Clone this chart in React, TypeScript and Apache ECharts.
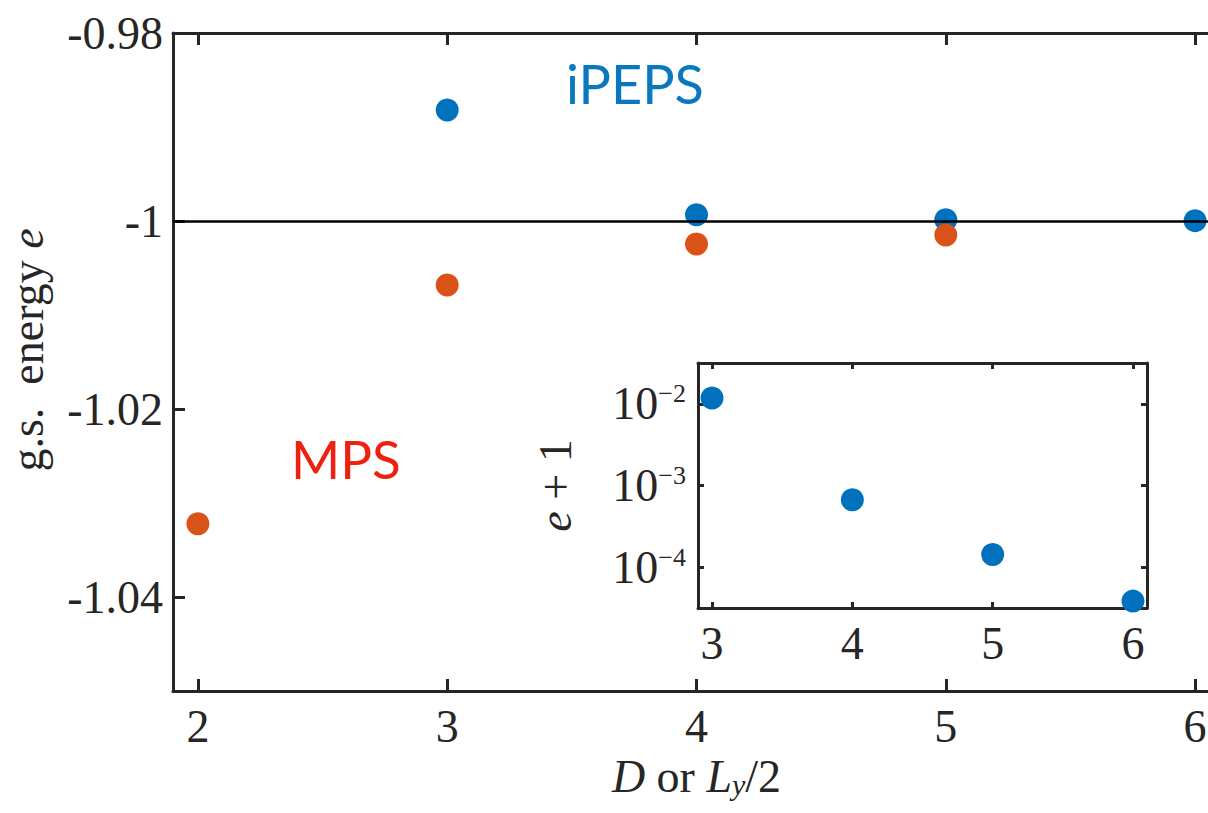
import React, { useEffect, useRef } from 'react';
import * as echarts from 'echarts';

// ---- data ----
const xTicks = [2, 3, 4, 5, 6];
const yTicks = [-1.04, -1.02, -1, -0.98];
const insetXTicks = [3, 4, 5, 6];
const mpsX = [2, 3, 4, 5];
const mpsE = [-1.0322, -1.0068, -1.00245, -1.0015];
const ipepsX = [3, 4, 5, 6];
const ipepsE = [-0.9882, -0.99933, -0.999857, -0.9999616];
const insetX = [3, 4, 5, 6];
const insetErr = [1.18e-2, 6.7e-4, 1.43e-4, 3.84e-5];
const refE = -1;

const BLUE = '#0072BD';
const ORANGE = '#D95319';
const AX = '#262626';
const SERIF = 'Liberation Serif, serif';
const SANS = 'Lato';

export default function App() {
  const ref = useRef<HTMLDivElement>(null);
  useEffect(() => {
    const chart = echarts.init(ref.current!, null, { renderer: 'svg' });
    const axLine = { show: true, lineStyle: { color: AX, width: 3 } };
    const mainTick = { show: true, inside: true, length: 12, lineStyle: { color: AX, width: 3 } };
    const insetTick = { show: true, inside: true, length: 6, lineStyle: { color: AX, width: 3 } };
    const tRich = { t: { fontFamily: SERIF, fontSize: 46, color: AX } };
    const lbl = { color: AX, fontFamily: SERIF, fontSize: 46, rich: tRich };
    const numFmt = (v: number) => `{t|${String(Number(v.toFixed(2)))}}`;
    const supFmt = (v: number) => {
      const e = Math.log10(v);
      if (Math.abs(e - Math.round(e)) > 1e-6) return '';
      return `{b|10}{s|\u2212${Math.abs(Math.round(e))}}`;
    };
    const supRich = {
      b: { fontFamily: SERIF, fontSize: 46, color: AX, lineHeight: 46 },
      s: { fontFamily: SERIF, fontSize: 26, color: AX, verticalAlign: 'top', lineHeight: 24 },
    };
    chart.setOption({
      animation: false,
      backgroundColor: '#fff',
      textStyle: { fontFamily: SERIF, color: AX },
      grid: [
        { left: 173, top: 33, width: 1047, height: 658, show: false, containLabel: false, outerBoundsMode: 'none' },
        { left: 698, top: 363, width: 449, height: 245, show: true, backgroundColor: '#fff', borderWidth: 0, z: 5, containLabel: false, outerBoundsMode: 'none' },
      ],
      xAxis: [
        {
          type: 'value', gridIndex: 0, min: 1.9, max: 6.1, position: 'bottom',
          axisLine: axLine, axisTick: { ...mainTick, customValues: xTicks }, splitLine: { show: false },
          axisLabel: { ...lbl, margin: 12, customValues: xTicks, formatter: numFmt },
          name: '{i|D}{r| or }{i|L}{sub|y}{r|/2}', nameLocation: 'middle', nameGap: 58,
          nameTextStyle: {
            rich: {
              i: { fontFamily: SERIF, fontSize: 46, fontStyle: 'italic', color: AX },
              r: { fontFamily: SERIF, fontSize: 46, color: AX },
              sub: { fontFamily: SERIF, fontSize: 30, fontStyle: 'italic', color: AX, verticalAlign: 'bottom', lineHeight: 30 },
            },
          },
        },
        {
          type: 'value', gridIndex: 0, min: 1.9, max: 6.1, position: 'top',
          axisLine: axLine, axisTick: { ...mainTick, customValues: xTicks }, splitLine: { show: false },
          axisLabel: { show: false },
        },
        {
          type: 'value', gridIndex: 1, min: 2.9, max: 6.1, position: 'bottom',
          axisLine: axLine, axisTick: { ...insetTick, customValues: insetXTicks }, splitLine: { show: false },
          axisLabel: { ...lbl, margin: 12, customValues: insetXTicks, formatter: numFmt }, z: 6,
        },
        {
          type: 'value', gridIndex: 1, min: 2.9, max: 6.1, position: 'top',
          axisLine: axLine, axisTick: { ...insetTick, customValues: insetXTicks }, splitLine: { show: false },
          axisLabel: { show: false }, z: 6,
        },
      ],
      yAxis: [
        {
          type: 'value', gridIndex: 0, min: -1.05, max: -0.98, position: 'left',
          axisLine: axLine, axisTick: { ...mainTick, customValues: yTicks }, splitLine: { show: false },
          axisLabel: { ...lbl, margin: 10, customValues: yTicks, formatter: numFmt },
          name: '{r|g.s.  energy }{i|e}', nameLocation: 'middle', nameGap: 124,
          nameTextStyle: {
            padding: [0, 0, 0, 24],
            rich: {
              r: { fontFamily: SERIF, fontSize: 46, color: AX, lineHeight: 44 },
              i: { fontFamily: SERIF, fontSize: 46, fontStyle: 'italic', color: AX, lineHeight: 44 },
            },
          },
        },
        {
          type: 'value', gridIndex: 0, min: -1.05, max: -0.98, position: 'right',
          axisLine: axLine, axisTick: { ...mainTick, customValues: yTicks }, splitLine: { show: false },
          axisLabel: { show: false },
        },
        {
          type: 'log', logBase: 10, gridIndex: 1, min: Math.pow(10, -4.5), max: Math.pow(10, -1.5), position: 'left',
          axisLine: axLine, axisTick: insetTick, splitLine: { show: false }, minorTick: { show: false },
          axisLabel: { formatter: supFmt, rich: supRich, margin: 12, fontFamily: SERIF, fontSize: 46 }, z: 6,
          name: '{i|e}{r| + 1}', nameLocation: 'middle', nameGap: 120,
          nameTextStyle: {
            rich: {
              r: { fontFamily: SERIF, fontSize: 46, color: AX },
              i: { fontFamily: SERIF, fontSize: 46, fontStyle: 'italic', color: AX },
            },
          },
        },
        {
          type: 'log', logBase: 10, gridIndex: 1, min: Math.pow(10, -4.5), max: Math.pow(10, -1.5), position: 'right',
          axisLine: axLine, axisTick: insetTick, splitLine: { show: false }, minorTick: { show: false },
          axisLabel: { show: false }, z: 6,
        },
      ],
      series: [
        {
          type: 'scatter', xAxisIndex: 0, yAxisIndex: 0, data: [], z: 1, silent: true,
          markLine: {
            silent: true, symbol: 'none', label: { show: false },
            lineStyle: { color: '#000', width: 2.5, type: 'solid' },
            data: [{ yAxis: refE }],
          },
        },
        {
          type: 'scatter', xAxisIndex: 0, yAxisIndex: 0, symbolSize: 23, z: 3,
          itemStyle: { color: BLUE, opacity: 1 },
          data: ipepsX.map((x, i) => [x, ipepsE[i]]),
        },
        {
          type: 'scatter', xAxisIndex: 0, yAxisIndex: 0, symbolSize: 23, z: 4,
          itemStyle: { color: ORANGE, opacity: 1 },
          data: mpsX.map((x, i) => [x, mpsE[i]]),
        },
        {
          type: 'scatter', xAxisIndex: 2, yAxisIndex: 2, symbolSize: 23, z: 7,
          itemStyle: { color: BLUE, opacity: 1 },
          data: insetX.map((x, i) => [x, insetErr[i]]),
        },
      ],
      graphic: [
        { type: 'text', left: 566, top: 56, style: { text: 'iPEPS', font: `54px ${SANS}`, fill: '#0A78BE' }, z: 10 },
        { type: 'text', left: 291, top: 432, style: { text: 'MPS', font: `53px ${SANS}`, fill: '#EE2010' }, z: 10 },
      ],
    });
    return () => chart.dispose();
  }, []);
  return (
    <div style={{ position: 'absolute', left: 0, top: 0, width: 1208, height: 813, overflow: 'hidden', background: '#fff' }}>
      <div ref={ref} style={{ width: 1240, height: 813 }} />
    </div>
  );
}
